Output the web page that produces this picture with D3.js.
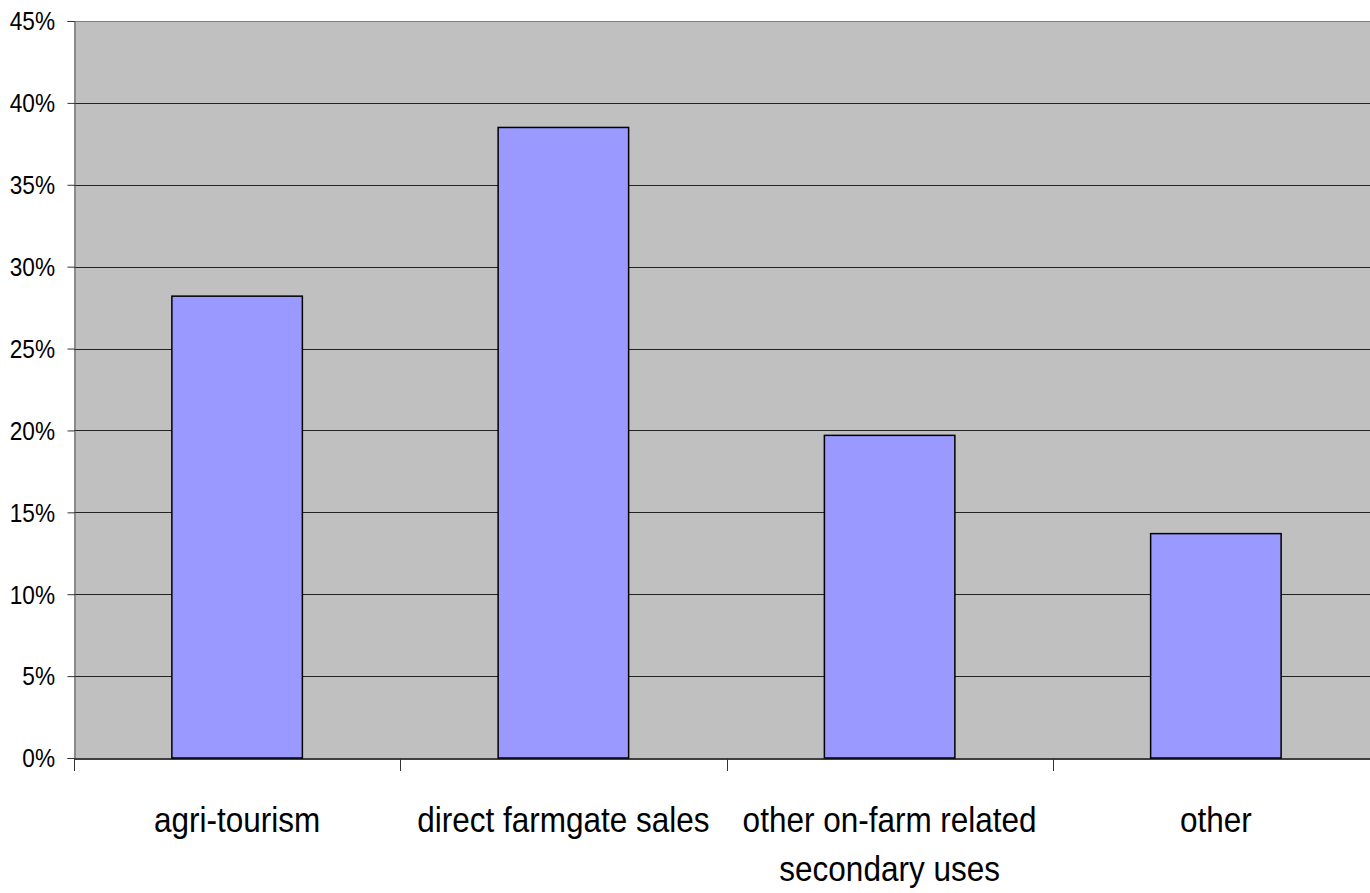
<!DOCTYPE html>
<html>
<head>
    <meta charset="utf-8">
    <script src="https://cdn.jsdelivr.net/npm/d3@7/dist/d3.min.js"></script>
    <style>
        body { margin: 0; background: #fff; }
        text { font-family: "Liberation Sans", Arial, sans-serif; fill: #000; }
    </style>
</head>
<body>
    <div id="chart"></div>
    <script>
        // data
        var categories = ["agri-tourism", "direct farmgate sales", "other on-farm related secondary uses", "other"];
        var labelLines = [["agri-tourism"], ["direct farmgate sales"], ["other on-farm related", "secondary uses"], ["other"]];
        var values = [0.282, 0.385, 0.197, 0.137];
        var yTicks = [0, 0.05, 0.10, 0.15, 0.20, 0.25, 0.30, 0.35, 0.40, 0.45];

        var W = 1370, H = 893;
        var margin = { top: 21, right: 0, bottom: 135, left: 74 },
            width = W - margin.left - margin.right,
            height = H - margin.top - margin.bottom;
        // the category axis runs a little past the right edge of the picture
        var axisWidth = 1305;

        var svg = d3.select("#chart").append("svg")
            .attr("width", W).attr("height", H)
            .append("g")
            .attr("transform", "translate(" + margin.left + "," + margin.top + ")");

        var x = d3.scaleBand().domain(categories).range([0, axisWidth]).padding(0);
        var y = d3.scaleLinear().domain([0, 0.45]).range([height, 0]);

        // plot background
        svg.append("rect")
            .attr("width", axisWidth).attr("height", height)
            .attr("fill", "#c0c0c0");

        // gridlines
        svg.append("g").selectAll("line")
            .data(yTicks.slice(1))
            .enter().append("line")
            .attr("x1", 0).attr("x2", axisWidth)
            .attr("y1", function (d) { return Math.round(y(d)) + 0.5; })
            .attr("y2", function (d) { return Math.round(y(d)) + 0.5; })
            .attr("stroke", function (d, i) { return i === yTicks.length - 2 ? "#808080" : "#222"; })
            .attr("stroke-width", 1);

        // bars
        var barW = x.bandwidth() * 0.4;
        svg.append("g").selectAll("rect")
            .data(values)
            .enter().append("rect")
            .attr("x", function (d, i) { return x(categories[i]) + (x.bandwidth() - barW) / 2; })
            .attr("y", function (d) { return y(d); })
            .attr("width", barW)
            .attr("height", function (d) { return height - y(d); })
            .attr("fill", "#9999ff")
            .attr("stroke", "#000")
            .attr("stroke-width", 1.5);

        // y axis (labels drawn separately so they can be narrowed)
        var yAxis = svg.append("g")
            .attr("transform", "translate(0.5,0)")
            .call(d3.axisLeft(y).tickValues(yTicks).tickFormat("").tickSize(7));
        yAxis.select(".domain").attr("stroke", "#555");
        yAxis.selectAll(".tick line").attr("stroke", "#333");

        var pct = d3.format(".0%");
        svg.append("g").selectAll("text")
            .data(yTicks)
            .enter().append("text")
            .attr("transform", function (d) { return "translate(-19," + y(d) + ") scale(0.87,1)"; })
            .attr("dy", "0.36em")
            .attr("text-anchor", "end")
            .style("font-size", "26px")
            .text(function (d) { return pct(d); });

        // x axis
        var xAxis = svg.append("g")
            .attr("transform", "translate(0," + (height + 0.5) + ")")
            .call(d3.axisBottom(x).tickSize(0).tickFormat(""));
        xAxis.select(".domain").attr("stroke", "#000").attr("stroke-width", 1.5);
        xAxis.selectAll(".tick").remove();

        // category separators below axis
        svg.append("g").selectAll("line")
            .data(categories)
            .enter().append("line")
            .attr("x1", function (d) { return Math.round(x(d)) + 0.5; })
            .attr("x2", function (d) { return Math.round(x(d)) + 0.5; })
            .attr("y1", height).attr("y2", height + 13)
            .attr("stroke", "#333");

        // category labels
        svg.append("g").selectAll("text")
            .data(categories)
            .enter().append("text")
            .attr("transform", function (d) {
                return "translate(" + (x(d) + x.bandwidth() / 2) + "," + (height + 74) + ") scale(0.9,1)";
            })
            .attr("text-anchor", "middle")
            .style("font-size", "35px")
            .each(function (d, i) {
                var t = d3.select(this);
                labelLines[i].forEach(function (line, j) {
                    t.append("tspan")
                        .attr("x", 0)
                        .attr("dy", j === 0 ? 0 : 49)
                        .text(line);
                });
            });
    </script>
</body>
</html>
